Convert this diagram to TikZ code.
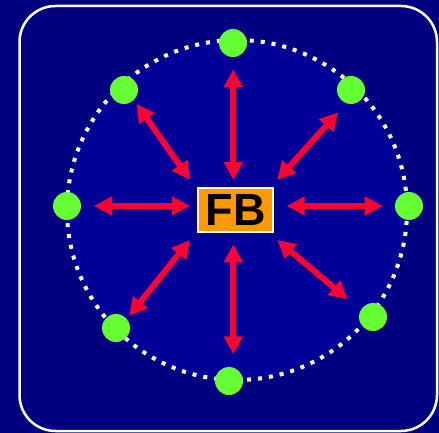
\documentclass[tikz,border=0pt]{standalone}
\usepackage{fontspec}
\setmainfont{Liberation Sans}
\usetikzlibrary{arrows.meta}
\definecolor{navyout}{RGB}{0,0,128}
\definecolor{navyin}{RGB}{0,0,153}
\definecolor{dotgreen}{RGB}{102,255,51}
\definecolor{arrred}{RGB}{255,0,51}
\definecolor{fborange}{RGB}{255,153,0}
\tikzset{
  greendot/.style={circle,fill=dotgreen,minimum size=28pt,inner sep=0pt},
  dblarrow/.style={draw=arrred,line width=6pt,{Triangle[length=18pt,width=18pt]}-{Triangle[length=18pt,width=18pt]}},
}
\begin{document}
\begin{tikzpicture}[x=1pt,y=-1pt]
\fill[navyout] (0,0) rectangle (439,433);
\useasboundingbox (0,0) rectangle (439,433);
\draw[white,line width=2.5pt,rounded corners=36pt] (19.5,6) rectangle (437,431);
\fill[navyin] (237,210) circle (170);
\draw[white,line width=4pt,dash pattern=on 4pt off 7pt] (237,210) circle (170);
% green dots
\node[greendot] (dn) at (233,43) {};
\node[greendot] (dne) at (351,90) {};
\node[greendot] (de) at (409,206) {};
\node[greendot] (dse) at (373,317) {};
\node[greendot] (ds) at (229,381) {};
\node[greendot] (dsw) at (116,328) {};
\node[greendot] (dw) at (67,206) {};
\node[greendot] (dnw) at (124,90) {};
% center box
\node[draw=white,line width=2pt,fill=fborange,minimum width=75pt,minimum height=44pt,inner sep=0pt,
  font=\bfseries\fontsize{45}{45}\selectfont,text=black] (fb) at (235.5,210) {FB};
% arrow endpoints
\coordinate (nwa) at (136.7,104);
\coordinate (nwb) at (190,180);
\coordinate (nea) at (338.3,112.3);
\coordinate (neb) at (277.3,180);
\coordinate (na) at (233.3,69.3);
\coordinate (nb) at (233.3,180);
\coordinate (wa) at (94,206);
\coordinate (wb) at (190,206);
\coordinate (ea) at (382.7,206);
\coordinate (eb) at (286.7,206);
\coordinate (swa) at (129.3,316);
\coordinate (swb) at (190,240);
\coordinate (sea) at (347.7,299.3);
\coordinate (seb) at (277.3,240);
\coordinate (sa) at (233.3,354.3);
\coordinate (sb) at (233.3,244.3);
\draw[dblarrow] (nwa) -- (nwb);
\draw[dblarrow] (nea) -- (neb);
\draw[dblarrow] (na) -- (nb);
\draw[dblarrow] (wa) -- (wb);
\draw[dblarrow] (ea) -- (eb);
\draw[dblarrow] (swa) -- (swb);
\draw[dblarrow] (sea) -- (seb);
\draw[dblarrow] (sa) -- (sb);
\end{tikzpicture}
\end{document}
